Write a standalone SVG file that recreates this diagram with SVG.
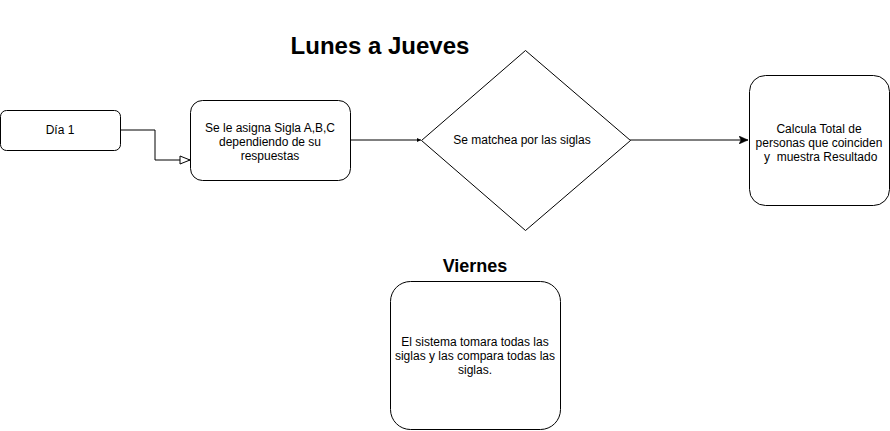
<svg xmlns="http://www.w3.org/2000/svg" width="890" height="431" viewBox="0 0 890 431">
<style>
.box{fill:#fff;stroke:#000;stroke-width:1}
.t{font-family:"Liberation Sans",Arial,sans-serif;font-size:12px;fill:#000;text-anchor:middle}
.h{font-family:"Liberation Sans",Arial,sans-serif;font-weight:bold;fill:#000;text-anchor:middle}
.c{fill:none;stroke:#000;stroke-width:1}
</style>
<defs>
<marker id="open" viewBox="0 0 12 10" refX="11" refY="5" markerWidth="12" markerHeight="10" markerUnits="userSpaceOnUse" orient="auto">
<path d="M1,1 L11,5 L1,9 Z" fill="#fff" stroke="#000" stroke-width="1"/>
</marker>
<marker id="fill" viewBox="0 0 10 8" refX="9" refY="4" markerWidth="10" markerHeight="8" markerUnits="userSpaceOnUse" orient="auto">
<path d="M0,0 L9,4 L0,8 L2,4 Z" fill="#000" stroke="#000" stroke-width="0.5"/>
</marker>
<marker id="small" viewBox="0 0 4 4" refX="4" refY="2" markerWidth="4" markerHeight="4" markerUnits="userSpaceOnUse" orient="auto">
<path d="M0,0 L4,2 L0,4 Z" fill="#000"/>
</marker>
</defs>
<g id="connectors">
<path class="c" d="M120,130 H155 V160 H190" marker-end="url(#open)"/>
<path class="c" d="M350,140 H421" marker-end="url(#small)"/>
<path class="c" d="M630,140 H748" marker-end="url(#fill)"/>
</g>
<g id="title1"><text class="h" x="380" y="54" font-size="24">Lunes a Jueves</text></g>
<g id="title2"><text class="h" x="475" y="272" font-size="18">Viernes</text></g>
<g id="dia1">
<rect class="box" x="0.5" y="110.5" width="120" height="40" rx="6"/>
<text class="t" x="60" y="134">Día 1</text>
</g>
<g id="asigna">
<rect class="box" x="190.5" y="100.5" width="160" height="80" rx="12"/>
<text class="t" x="270" y="132">Se le asigna Sigla A,B,C</text>
<text class="t" x="270" y="146">dependiendo de su</text>
<text class="t" x="270" y="160">respuestas</text>
</g>
<g id="matchea">
<path class="box" d="M525.5,50.5 L630.5,140.5 L525.5,230.5 L421.5,140.5 Z"/>
<text class="t" x="522" y="144">Se matchea por las siglas</text>
</g>
<g id="calcula">
<rect class="box" x="749.5" y="75.5" width="140" height="130" rx="16"/>
<text class="t" x="819" y="133">Calcula Total de</text>
<text class="t" x="819" y="147">personas que coinciden</text>
<text class="t" x="819" y="161" style="white-space:pre" xml:space="preserve"> y  muestra Resultado</text>
</g>
<g id="viernes">
<rect class="box" x="390.5" y="281.5" width="170" height="148" rx="20"/>
<text class="t" x="475" y="346">El sistema tomara todas las</text>
<text class="t" x="475" y="360">siglas y las compara todas las</text>
<text class="t" x="475" y="374">siglas.</text>
</g>
</svg>
